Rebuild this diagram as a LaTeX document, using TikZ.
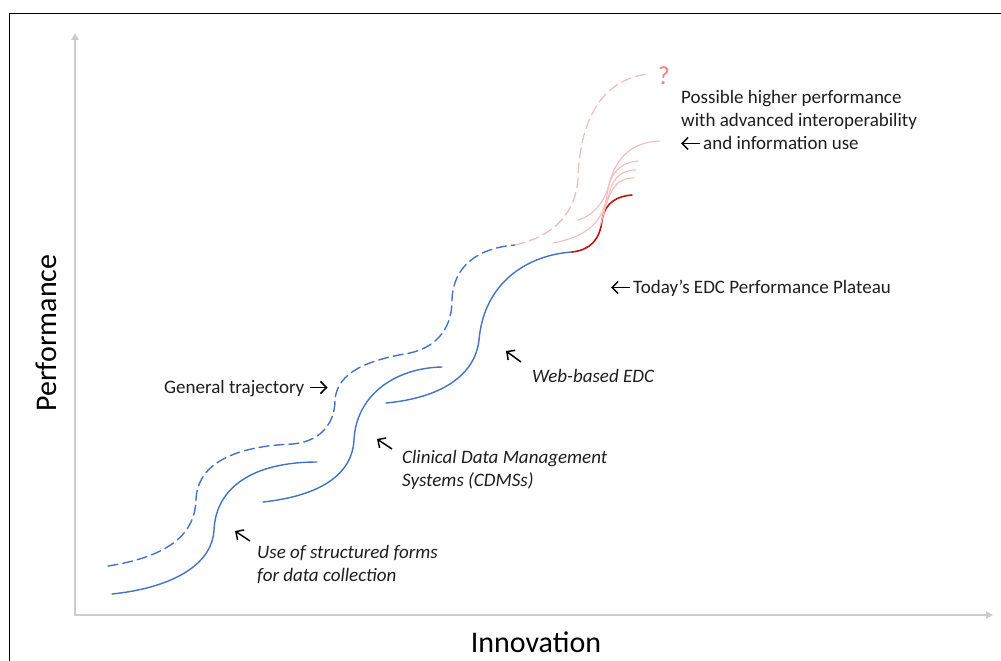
\documentclass[tikz,border=0pt]{standalone}
\usepackage{fontspec}
\setmainfont{Carlito}
\usetikzlibrary{arrows.meta}
\definecolor{trackblue}{RGB}{68,114,196}
\definecolor{todayred}{RGB}{192,20,20}
\definecolor{futurepink}{RGB}{244,188,188}
\definecolor{qpink}{RGB}{240,130,130}
\definecolor{axisgray}{RGB}{204,204,204}
\definecolor{inktext}{RGB}{30,30,30}
\begin{document}
\begin{tikzpicture}[x=1pt,y=-1pt,line cap=round,
  axis/.style={draw=axisgray, line width=2pt, -{Triangle[length=7pt,width=7pt]}},
  trend/.style={draw=trackblue, line width=1.4pt, dash pattern=on 10pt off 5pt},
  stage/.style={draw=trackblue, line width=1.4pt},
  today/.style={draw=todayred, line width=1.6pt},
  future/.style={draw=futurepink, line width=1.1pt},
  futuretrend/.style={draw=futurepink, line width=1.3pt, dash pattern=on 10pt off 5pt},
  note/.style={inner sep=0pt, anchor=base west, text=inktext, font=\fontsize{19}{23}\selectfont},
  stagenote/.style={note, font=\fontsize{19}{23}\selectfont\itshape},
  axislabel/.style={inner sep=0pt, text=black, font=\fontsize{30}{36}\selectfont},
  pointer/.style={draw=black, line width=1.5pt, line cap=butt,
    -{Straight Barb[length=6pt,width=12pt,line width=1.5pt]}},
]
\useasboundingbox (0,0) rectangle (1001,661);
\fill[white] (0,0) rectangle (1001,661);

% outer frame (left and top edges)
\draw[black, line width=1pt] (9,661) -- (9,14) -- (1001,14);

% axes
\coordinate (origin) at (75,615);
\coordinate (ytop) at (75,33);
\coordinate (xend) at (993,615);
\draw[axis] (origin) -- (ytop);
\draw[axis] (origin) -- (xend);
\node[axislabel, rotate=90] (perf) at (46,333) {Performance};
\node[axislabel] (innov) at (536,642) {Innovation};

% general trajectory (dashed)
\draw[trend] (108,566) .. controls (172,556) and (195,532) .. (196,500)
  .. controls (197,462) and (238,446) .. (293,444)
  .. controls (323,441) and (335,421) .. (335,400)
  .. controls (337,372) and (368,360) .. (410,353)
  .. controls (440,346) and (452,325) .. (452,300)
  .. controls (453,266) and (478,248) .. (515,245);
\draw[futuretrend] (515,245) .. controls (555,236) and (576,212) .. (578,178)
  .. controls (580,122) and (600,80) .. (648,74);
\node[inner sep=0pt, text=qpink, font=\fontsize{26}{30}\selectfont] (qmark) at (664,76) {?};

% successive technology S-curves
\draw[stage] (112,594) .. controls (170,588) and (212,566) .. (214,530)
  .. controls (216,486) and (255,462) .. (317,462);
\draw[stage] (263,502) .. controls (318,496) and (352,476) .. (354,440)
  .. controls (356,396) and (394,368) .. (442,367);
\draw[stage] (386,403) .. controls (440,398) and (475,376) .. (479,340)
  .. controls (484,282) and (528,255) .. (572,252);
\draw[today] (572,252) .. controls (590,250) and (600,240) .. (602,220)
  .. controls (605,202) and (618,196) .. (632,195);

% possible future curves
\draw[future] (553,243) .. controls (590,236) and (603,220) .. (607,195)
  .. controls (612,160) and (630,142) .. (660,141);
\draw[future] (578,220) .. controls (595,215) and (605,200) .. (609,185)
  .. controls (614,168) and (625,162) .. (638,161);
\draw[future] (600,226) .. controls (605,210) and (608,195) .. (612,185)
  .. controls (617,174) and (626,170) .. (636,170);
\draw[future] (603,215) .. controls (607,200) and (612,188) .. (618,183)
  .. controls (623,179) and (628,178) .. (634,178);

% annotations
\node[note] (possA) at (681,103) {Possible higher performance};
\node[note] (possB) at (681,126) {with advanced interoperability};
\node[note] (possC) at (703,149) {and information use};
\draw[pointer] ([xshift=-3pt,yshift=5.5pt]possC.base west) -- ++(-19,0);

\node[note] (plateau) at (633,293) {Today’s EDC Performance Plateau};
\draw[pointer] ([xshift=-3pt,yshift=5.5pt]plateau.base west) -- ++(-19,0);

\node[note] (general) at (164,393) {General trajectory};
\draw[pointer] ([xshift=5pt,yshift=5.5pt]general.base east) -- ++(18,0);

\node[stagenote] (web) at (532,382) {Web-based EDC};
\coordinate (webtail) at (521,362);
\coordinate (webhead) at (506,351);
\draw[pointer] (webtail) -- (webhead);

\node[stagenote] (cdmsA) at (402,463) {Clinical Data Management};
\node[stagenote] (cdmsB) at (402,486) {Systems (CDMSs)};
\coordinate (cdmstail) at (392,449);
\coordinate (cdmshead) at (377,439);
\draw[pointer] (cdmstail) -- (cdmshead);

\node[stagenote] (formsA) at (257,558) {Use of structured forms};
\node[stagenote] (formsB) at (257,581) {for data collection};
\coordinate (formstail) at (250,541);
\coordinate (formshead) at (235,531);
\draw[pointer] (formstail) -- (formshead);
\end{tikzpicture}
\end{document}
